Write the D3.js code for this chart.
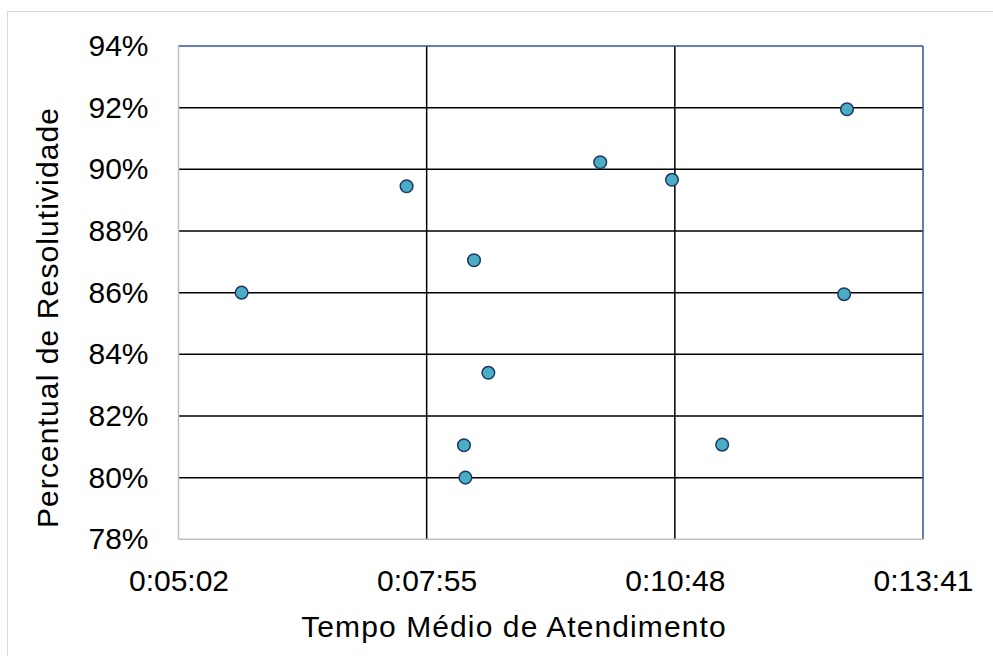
<!DOCTYPE html>
<html>
<head>
<meta charset="utf-8">
<script src="https://cdn.jsdelivr.net/npm/d3@7"></script>
<style>
  body { margin: 0; background: #fff; }
  svg { display: block; font-family: "Liberation Sans", Arial, sans-serif; }
</style>
</head>
<body>
<svg width="993" height="656"></svg>
<script>
// tempo medio de atendimento (h:mm:ss) and percentual de resolutividade
const tempos = ['0:05:46', '0:07:41', '0:08:28', '0:08:38', '0:08:21', '0:08:22',
  '0:11:21', '0:12:48', '0:09:56', '0:10:46', '0:12:46']
const resolutividade = [0.86, 0.8945, 0.8705, 0.834, 0.8105, 0.80,
  0.8107, 0.9195, 0.9023, 0.8966, 0.8595]
const xTicks = ['0:05:02', '0:07:55', '0:10:48', '0:13:41']
const yTicks = [0.78, 0.80, 0.82, 0.84, 0.86, 0.88, 0.90, 0.92, 0.94]

const toSec = (s) => {
  const [h, m, sec] = s.split(':').map(Number)
  return h * 3600 + m * 60 + sec
}
const data = tempos.map((t, i) => ({ x: toSec(t), y: resolutividade[i] }))

const svg = d3.select('svg')
const plotLeft = 178.5
const plotRight = 923
const plotTop = 46
const plotBottom = 539.3

const x = d3.scaleLinear()
  .domain([toSec(xTicks[0]), toSec(xTicks[xTicks.length - 1])])
  .range([plotLeft, plotRight])
const y = d3.scaleLinear().domain([0.78, 0.94]).range([plotBottom, plotTop])

// outer chart border
svg.append('rect')
  .attr('x', 7.5).attr('y', 11.5)
  .attr('width', 1000).attr('height', 700)
  .attr('fill', '#fff')
  .attr('stroke', '#d9d9d9')
  .attr('stroke-width', 1)

// gridlines
svg.append('g')
  .selectAll('line')
  .data(yTicks.slice(1, -1))
  .join('line')
  .attr('x1', plotLeft).attr('x2', plotRight)
  .attr('y1', (d) => y(d)).attr('y2', (d) => y(d))
  .attr('stroke', '#000')
  .attr('stroke-width', 1.5)

svg.append('g')
  .selectAll('line')
  .data(xTicks.slice(1, -1))
  .join('line')
  .attr('x1', (d) => x(toSec(d))).attr('x2', (d) => x(toSec(d)))
  .attr('y1', plotTop).attr('y2', plotBottom)
  .attr('stroke', '#000')
  .attr('stroke-width', 1.5)

// plot borders: top/right blue, left/bottom gray
const border = (x1, y1, x2, y2, color) => svg.append('line')
  .attr('x1', x1).attr('y1', y1).attr('x2', x2).attr('y2', y2)
  .attr('stroke', color).attr('stroke-width', 1.5)
border(plotLeft, plotTop, plotRight, plotTop, '#2f5597')
border(plotRight, plotTop, plotRight, plotBottom, '#2f5597')
border(plotLeft, plotTop, plotLeft, plotBottom, '#bfbfbf')
border(plotLeft, plotBottom, plotRight, plotBottom, '#bfbfbf')

// axes (labels only)
const xAxis = d3.axisBottom(x)
  .tickValues(xTicks.map(toSec))
  .tickFormat((d, i) => xTicks[i])
  .tickSize(0)
  .tickPadding(30)
const gx = svg.append('g')
  .attr('transform', `translate(0,${plotBottom})`)
  .call(xAxis)
gx.select('.domain').remove()
gx.selectAll('text')
  .attr('font-size', 30)
  .attr('font-family', '"Liberation Sans", Arial, sans-serif')
  .attr('fill', '#000')

const yAxis = d3.axisLeft(y)
  .tickValues(yTicks)
  .tickFormat(d3.format('.0%'))
  .tickSize(0)
  .tickPadding(30)
const gy = svg.append('g')
  .attr('transform', `translate(${plotLeft},0)`)
  .call(yAxis)
gy.select('.domain').remove()
gy.selectAll('text')
  .attr('font-size', 30)
  .attr('font-family', '"Liberation Sans", Arial, sans-serif')
  .attr('fill', '#000')

// axis titles
svg.append('text')
  .attr('x', 514)
  .attr('y', 637)
  .attr('text-anchor', 'middle')
  .attr('font-size', 30)
  .attr('letter-spacing', 1.1)
  .text('Tempo Médio de Atendimento')

svg.append('text')
  .attr('transform', 'translate(58,317.5) rotate(-90)')
  .attr('text-anchor', 'middle')
  .attr('font-size', 30)
  .attr('letter-spacing', 1.1)
  .text('Percentual de Resolutividade')

// points
svg.append('g')
  .selectAll('circle')
  .data(data)
  .join('circle')
  .attr('cx', (d) => x(d.x))
  .attr('cy', (d) => y(d.y))
  .attr('r', 6.3)
  .attr('fill', '#4bacc6')
  .attr('stroke', '#1f3864')
  .attr('stroke-width', 1.5)
</script>
</body>
</html>
